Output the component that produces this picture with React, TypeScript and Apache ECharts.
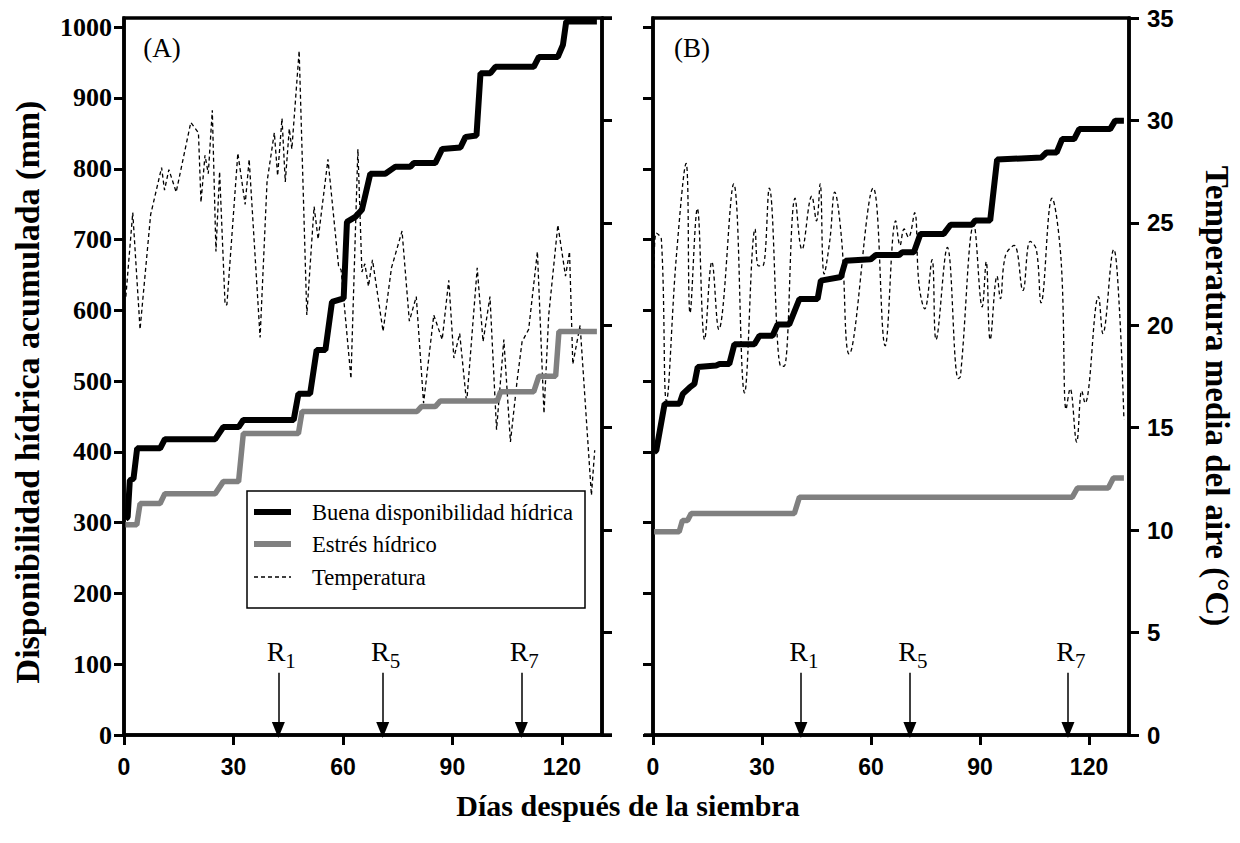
import { useEffect, useRef } from 'react';
import * as echarts from 'echarts';

// ---------- data ----------
const dayTicks = [0, 30, 60, 90, 120];
const mmTicks = [0, 100, 200, 300, 400, 500, 600, 700, 800, 900, 1000];
const tempTicks = [0, 5, 10, 15, 20, 25, 30, 35];

const seriesNames = ['Buena disponibilidad hídrica', 'Estrés hídrico', 'Temperatura'];

// Panel A: cumulative water availability (mm) [day, mm]
const buenaA = [
  [0.4, 305], [1.0, 308], [1.6, 360], [2.6, 362], [3.6, 405], [9.9, 405], [11.2, 418], [25.0, 418],
  [27.2, 435], [31.4, 435], [32.7, 445], [46.5, 445], [47.8, 482], [51.0, 482], [52.8, 544], [55.2, 544],
  [57.0, 612], [60.2, 617], [61.1, 725], [63.4, 732], [65.2, 742], [67.5, 793], [71.6, 793], [74.4, 803],
  [78.5, 803], [79.4, 808], [85.3, 808], [87.2, 828], [92.2, 830], [93.6, 845], [96.6, 847], [97.7, 935],
  [100.4, 935], [101.8, 944], [112.3, 944], [113.7, 958], [118.9, 958], [120.3, 975], [121.2, 1008], [129.6, 1008],
];
const estresA = [
  [0.4, 297], [3.5, 297], [4.4, 327], [9.9, 327], [11.2, 341], [25.0, 341], [27.2, 358], [31.4, 358],
  [32.7, 426], [47.8, 426], [48.8, 457], [80.3, 457], [81.5, 464], [85.3, 464], [86.7, 472], [102.3, 472],
  [103.2, 485], [112.3, 485], [113.7, 507], [118.3, 507], [119.2, 570], [129.6, 570],
];
// Panel A: mean air temperature (°C) [day, °C]
const tempA = [
  [0.5, 21.4], [2.4, 25.5], [4.4, 19.8], [7.3, 25.4], [10.3, 27.7], [11.1, 26.6], [12.3, 27.6], [14.3, 26.5],
  [18.3, 29.9], [20.4, 29.4], [21.1, 26.0], [22.2, 28.3], [23.1, 27.4], [24.2, 30.5], [25.2, 23.6], [26.2, 27.5],
  [27.7, 21.0], [28.2, 21.0], [31.2, 28.4], [33.2, 25.9], [34.3, 28.1], [37.3, 19.4], [39.2, 27.0], [41.2, 29.4],
  [42.1, 27.3], [43.3, 30.1], [44.2, 27.0], [45.3, 29.6], [46.0, 28.6], [48.0, 33.4], [50.1, 20.5], [52.1, 25.8],
  [53.2, 24.2], [55.9, 28.1], [58.8, 22.9], [59.5, 22.7], [62.2, 17.4], [64.1, 28.6], [65.2, 22.6], [66.0, 23.0],
  [67.0, 21.9], [68.1, 23.2], [71.0, 19.7], [73.3, 22.8], [76.2, 24.6], [78.2, 20.2], [80.1, 21.4], [82.1, 16.2],
  [84.9, 20.5], [87.2, 19.3], [89.0, 22.2], [90.4, 18.4], [92.0, 19.6], [93.9, 16.2], [96.8, 22.8], [98.4, 19.2],
  [100.3, 21.4], [102.1, 14.9], [104.1, 19.3], [105.9, 14.3], [107.8, 17.4], [109.1, 19.2], [110.9, 19.8], [113.3, 23.6],
  [115.1, 15.7], [116.4, 20.5], [118.9, 24.9], [121.0, 22.4], [122.1, 23.6], [123.0, 18.1], [125.0, 20.0], [128.1, 11.7],
  [129.0, 13.9],
];

// Panel B
const buenaB = [
  [0.3, 400], [0.9, 402], [3.2, 468], [7.3, 468], [8.2, 482], [10.1, 491], [11.4, 496], [12.3, 520],
  [17.4, 522], [18.3, 524], [21.0, 524], [22.4, 552], [27.9, 552], [29.3, 564], [32.9, 564], [34.3, 580],
  [37.5, 580], [40.3, 616], [45.3, 616], [46.2, 642], [51.7, 647], [53.0, 670], [59.9, 672], [61.3, 678],
  [67.7, 678], [68.6, 682], [71.8, 682], [73.6, 708], [80.0, 708], [81.9, 721], [87.8, 721], [88.7, 727],
  [92.8, 727], [94.7, 813], [106.9, 816], [108.3, 823], [111.1, 823], [112.6, 842], [115.9, 842], [117.3, 856],
  [125.8, 856], [127.2, 868], [129.6, 868],
];
const estresB = [
  [0.3, 287], [7.2, 287], [8.1, 303], [9.5, 303], [10.5, 313], [38.9, 313], [40.3, 336], [115.4, 336],
  [116.8, 349], [125.3, 349], [126.7, 363], [129.6, 363],
];
const tempB = [
  [0.3, 22.8], [0.9, 24.5], [2.3, 24.2], [3.7, 16.3], [6.4, 23.3], [9.1, 27.9], [10.2, 20.6], [12.2, 25.7],
  [14.2, 19.3], [16.2, 23.1], [18.1, 19.8], [22.2, 26.9], [25.2, 16.7], [28.1, 24.7], [29.0, 22.9], [30.2, 22.9],
  [32.0, 26.7], [35.2, 18.0], [36.1, 18.0], [39.1, 26.2], [41.0, 23.7], [43.7, 26.3], [45.0, 25.1], [46.0, 26.9],
  [47.1, 22.5], [48.7, 24.2], [50.0, 26.5], [51.9, 24.2], [54.0, 18.6], [60.6, 26.7], [63.9, 19.0], [66.8, 25.1],
  [68.0, 23.9], [69.1, 24.7], [70.3, 24.3], [72.0, 25.5], [73.2, 22.0], [74.8, 20.8], [76.8, 23.2], [77.9, 19.3],
  [81.0, 23.8], [84.0, 17.4], [84.6, 17.5], [88.3, 24.9], [90.6, 20.9], [91.7, 23.1], [92.8, 19.3], [94.7, 22.4],
  [95.6, 21.3], [97.0, 23.4], [99.4, 23.9], [101.8, 21.7], [103.8, 24.1], [105.5, 23.7], [106.8, 21.1], [109.8, 26.2],
  [112.3, 23.2], [113.7, 15.9], [114.8, 16.9], [116.6, 14.3], [118.0, 16.8], [118.9, 16.2], [122.6, 21.4], [123.8, 19.6],
  [126.8, 23.7], [128.3, 21.0], [129.6, 15.4],
];

// Reproductive stages (day after sowing)
const stagesA = [{ sub: '1', day: 42.3 }, { sub: '5', day: 70.9 }, { sub: '7', day: 108.9 }];
const stagesB = [{ sub: '1', day: 40.7 }, { sub: '5', day: 70.7 }, { sub: '7', day: 114.2 }];
const arrowTopMm = 88;
const arrowTipMm = 7;

const panelLabels = ['(A)', '(B)'];
const xTitle = 'Días después de la siembra';
const yLeftTitle = 'Disponibilidad hídrica acumulada (mm)';
const yRightTitle = 'Temperatura media del aire (°C)';

// ---------- layout ----------
const GA = { left: 124, top: 18, width: 478, height: 717 };
const GB = { left: 653, top: 18, width: 476, height: 717 };
const MM_MAX = 1013;
const SERIF = '"Liberation Serif", "Times New Roman", serif';
const SANS = '"Liberation Sans", Arial, sans-serif';

function xAxisCfg(gridIndex: number) {
  return {
    type: 'value', gridIndex, min: 0, max: 131, interval: 30,
    axisLine: { show: true, lineStyle: { color: '#000', width: 3.5 } },
    axisTick: { show: true, length: 10, lineStyle: { color: '#000', width: 3 }, customValues: dayTicks },
    axisLabel: {
      show: true, customValues: dayTicks, color: '#000', fontFamily: SANS, fontWeight: 'bold',
      fontSize: 23, margin: 20, formatter: (v: number) => String(v),
    },
    splitLine: { show: false },
  };
}

function yAxisCfg(gridIndex: number, position: string, kind: 'mm' | 't', showLabel: boolean) {
  const ticks = kind === 'mm' ? mmTicks : tempTicks;
  return {
    type: 'value', gridIndex, position, min: 0, max: kind === 'mm' ? MM_MAX : 35,
    axisLine: { show: true, onZero: false, lineStyle: { color: '#000', width: 3.5 } },
    axisTick: { show: true, length: 10, lineStyle: { color: '#000', width: 3 }, customValues: ticks },
    axisLabel: {
      show: showLabel, customValues: ticks, color: '#000',
      fontFamily: kind === 'mm' ? SERIF : SANS, fontWeight: 'bold',
      fontSize: kind === 'mm' ? 26 : 24, margin: kind === 'mm' ? 12 : 18,
      formatter: (v: number) => String(v),
    },
    splitLine: { show: false },
  };
}

function arrowMarkLine(stages: { sub: string; day: number }[]) {
  return {
    silent: true,
    symbol: ['none', 'triangle'],
    symbolSize: [13, 16],
    lineStyle: { color: '#000', width: 1.5, type: 'solid' },
    label: { show: false },
    emphasis: { disabled: true },
    data: stages.map((s) => [{ coord: [s.day, arrowTopMm] }, { coord: [s.day, arrowTipMm] }]),
  };
}

const dashed = { color: '#000', width: 1.3, type: [4, 3] };

function buildOption() {
  return {
    animation: false,
    backgroundColor: '#fff',
    grid: [
      { ...GA, show: true, borderColor: '#000', borderWidth: 3.5, backgroundColor: 'transparent' },
      { ...GB, show: true, borderColor: '#000', borderWidth: 3.5, backgroundColor: 'transparent' },
    ],
    xAxis: [xAxisCfg(0), xAxisCfg(1)],
    yAxis: [
      yAxisCfg(0, 'left', 'mm', true),
      yAxisCfg(0, 'right', 't', false),
      yAxisCfg(1, 'left', 'mm', false),
      yAxisCfg(1, 'right', 't', true),
    ],
    series: [
      { name: seriesNames[2], type: 'line', xAxisIndex: 0, yAxisIndex: 1, data: tempA, symbol: 'none', lineStyle: dashed, z: 2 },
      { name: seriesNames[1], type: 'line', xAxisIndex: 0, yAxisIndex: 0, data: estresA, symbol: 'none', lineStyle: { color: '#808080', width: 5.5 }, z: 3 },
      { name: seriesNames[0], type: 'line', xAxisIndex: 0, yAxisIndex: 0, data: buenaA, symbol: 'none', lineStyle: { color: '#000', width: 6 }, z: 4, markLine: arrowMarkLine(stagesA) },
      { name: seriesNames[2], type: 'line', xAxisIndex: 1, yAxisIndex: 3, data: tempB, symbol: 'none', smooth: 0.4, lineStyle: dashed, z: 2 },
      { name: seriesNames[1], type: 'line', xAxisIndex: 1, yAxisIndex: 2, data: estresB, symbol: 'none', lineStyle: { color: '#808080', width: 5.5 }, z: 3 },
      { name: seriesNames[0], type: 'line', xAxisIndex: 1, yAxisIndex: 2, data: buenaB, symbol: 'none', lineStyle: { color: '#000', width: 6 }, z: 4, markLine: arrowMarkLine(stagesB) },
    ],
  };
}

export default function App() {
  const ref = useRef<HTMLDivElement>(null);
  useEffect(() => {
    if (!ref.current) return;
    const chart = echarts.init(ref.current, null, { renderer: 'svg' });
    chart.setOption(buildOption());

    const g: any[] = [];
    // frame extensions
    const lineStyle = { stroke: '#000', lineWidth: 3.5 };
    const aRight = GA.left + GA.width;
    const bottom = GA.top + GA.height;
    g.push({ type: 'line', shape: { x1: aRight, y1: GA.top, x2: aRight + 10, y2: GA.top }, style: lineStyle, z: 50 });
    g.push({ type: 'line', shape: { x1: aRight, y1: bottom, x2: aRight + 10, y2: bottom }, style: lineStyle, z: 50 });
    g.push({ type: 'line', shape: { x1: GB.left - 9, y1: bottom, x2: GB.left, y2: bottom }, style: lineStyle, z: 50 });

    // stage labels
    [stagesA, stagesB].forEach((stages, gi) => {
      stages.forEach((s) => {
        const p = chart.convertToPixel({ xAxisIndex: gi, yAxisIndex: gi === 0 ? 0 : 2 } as any, [s.day, arrowTopMm]) as number[];
        g.push({ type: 'text', x: p[0] + 7, y: p[1] - 21, z: 60,
          style: { text: 'R', fontFamily: SERIF, fontSize: 28, fill: '#000', align: 'right', verticalAlign: 'middle' } });
        g.push({ type: 'text', x: p[0] + 7, y: p[1] - 12, z: 60,
          style: { text: s.sub, fontFamily: SERIF, fontSize: 21, fill: '#000', align: 'left', verticalAlign: 'middle' } });
      });
    });

    // panel labels
    g.push({ type: 'text', x: 162, y: 48, z: 60, style: { text: panelLabels[0], fontFamily: SERIF, fontSize: 27, fill: '#000', align: 'center', verticalAlign: 'middle' } });
    g.push({ type: 'text', x: 692, y: 48, z: 60, style: { text: panelLabels[1], fontFamily: SERIF, fontSize: 27, fill: '#000', align: 'center', verticalAlign: 'middle' } });

    // legend
    g.push({ type: 'rect', shape: { x: 247, y: 491, width: 338, height: 117 }, style: { fill: '#fff', stroke: '#000', lineWidth: 1.5 }, z: 70 });
    const rows = [512, 544, 577];
    const sampleStyles = [
      { stroke: '#000', lineWidth: 6 },
      { stroke: '#808080', lineWidth: 6 },
      { stroke: '#000', lineWidth: 1.3, lineDash: [4, 3] },
    ];
    rows.forEach((y, i) => {
      g.push({ type: 'line', shape: { x1: 254, y1: y, x2: 291, y2: y }, style: sampleStyles[i], z: 71 });
      g.push({ type: 'text', x: 312, y, z: 71, style: { text: seriesNames[i], fontFamily: SERIF, fontSize: 22.6, fill: '#000', align: 'left', verticalAlign: 'middle' } });
    });

    // axis titles
    g.push({ type: 'text', x: 628, y: 805, z: 60, style: { text: xTitle, fontFamily: SERIF, fontWeight: 'bold', fontSize: 30, fill: '#000', align: 'center', verticalAlign: 'middle' } });
    g.push({ type: 'text', x: 27, y: 392, rotation: Math.PI / 2, z: 60, style: { text: yLeftTitle, fontFamily: SERIF, fontWeight: 'bold', fontSize: 34, fill: '#000', align: 'center', verticalAlign: 'middle' } });
    g.push({ type: 'text', x: 1217, y: 396, rotation: -Math.PI / 2, z: 60, style: { text: yRightTitle, fontFamily: SERIF, fontWeight: 'bold', fontSize: 33, fill: '#000', align: 'center', verticalAlign: 'middle' } });

    chart.setOption({ graphic: g });
    return () => chart.dispose();
  }, []);
  return <div ref={ref} style={{ position: 'fixed', left: 0, top: 0, width: 1240, height: 843 }} />;
}
